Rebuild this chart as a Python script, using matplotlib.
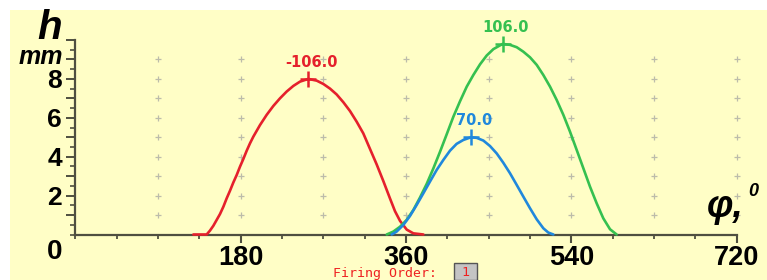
import matplotlib
matplotlib.use("Agg")
import matplotlib.pyplot as plt
from matplotlib.patches import Rectangle
from matplotlib.ticker import MultipleLocator, FixedLocator

# ---- data ----
red_deg = [128.5, 143.0, 146.6, 150.3, 153.9, 157.5, 161.2, 164.8, 168.4, 172.0, 175.7,
           179.3, 182.9, 186.6, 190.2, 193.8, 201.1, 208.3, 215.6, 222.8, 230.1, 237.4,
           244.6, 253.7, 262.8, 270.0, 277.3, 284.5, 291.8, 299.0, 306.3, 313.5, 320.8,
           328.1, 335.3, 342.6, 348.0, 353.5, 360.8, 368.0, 378.9]
red_h = [0.0, 0.0, 0.2, 0.45, 0.75, 1.05, 1.43, 1.86, 2.25, 2.67, 3.06,
         3.49, 3.88, 4.31, 4.69, 5.03, 5.63, 6.15, 6.61, 7.0, 7.35, 7.64,
         7.86, 8.0, 7.91, 7.74, 7.5, 7.2, 6.8, 6.35, 5.8, 5.2, 4.4,
         3.6, 2.75, 1.85, 1.2, 0.7, 0.25, 0.06, 0.0]

green_deg = [339.0, 346.2, 353.5, 360.7, 368.0, 375.2, 382.5, 389.8, 397.0, 404.3, 411.5,
             418.8, 426.1, 433.3, 440.6, 447.8, 455.1, 465.2, 473.2, 480.5, 487.7, 495.0,
             502.3, 509.5, 516.8, 524.0, 531.3, 538.5, 545.8, 553.1, 560.3, 567.6, 574.8,
             582.1, 589.3]
green_h = [0.0, 0.15, 0.4, 0.75, 1.26, 1.9, 2.6, 3.4, 4.25, 5.15, 6.05,
           6.85, 7.6, 8.2, 8.75, 9.2, 9.53, 9.8, 9.75, 9.63, 9.4, 9.11,
           8.72, 8.2, 7.6, 6.92, 6.15, 5.29, 4.35, 3.4, 2.46, 1.6, 0.83,
           0.27, 0.0]

blue_deg = [344.4, 349.8, 357.1, 364.3, 371.6, 378.9, 386.1, 393.4, 400.6, 407.9, 415.1,
            422.4, 430.8, 436.9, 444.2, 451.4, 458.7, 465.9, 473.2, 480.5, 487.7, 495.0,
            502.3, 509.5, 514.9, 520.4]
blue_h = [0.0, 0.15, 0.49, 0.95, 1.52, 2.12, 2.72, 3.32, 3.83, 4.31, 4.66,
          4.86, 5.0, 4.97, 4.83, 4.55, 4.17, 3.69, 3.15, 2.55, 1.95, 1.35,
          0.78, 0.32, 0.1, 0.0]

peak_deg = [253.7, 465.2, 430.8]
peak_h = [8.0, 9.8, 5.0]
peak_labels = ["-106.0", "106.0", "70.0"]

x_ticks = [180, 360, 540, 720]
x_ticklabels = ["180", "360", "540", "720"]
y_ticks = [1, 2, 3, 4, 5, 6, 7, 8, 9, 10]
y_ticklabels = ["", "2", "", "4", "", "6", "", "8", "", ""]

grid_x = [90, 180, 270, 360, 450, 540, 630, 720]
grid_y = [1, 2, 3, 4, 5, 6, 7, 8, 9]

firing_order = "1"

# ---- styling ----
RED = "#e5202c"
GREEN = "#35c050"
BLUE = "#2088dc"
BG = "#FFFEC6"
AXC = "#4f4f40"
W, H = 767, 280

fig = plt.figure(figsize=(W / 100, H / 100), dpi=100)
fig.patch.set_facecolor("white")
fig.patches.append(Rectangle((10 / W, 0), 1 - 10 / W, 1 - 10 / H, transform=fig.transFigure,
                             facecolor=BG, edgecolor="none", zorder=-10))

x0, x1 = 75.3, 736.7
y0, y1 = 234.5, 40.0
ax = fig.add_axes([x0 / W, (H - y0) / H, (x1 - x0) / W, (y0 - y1) / H])
ax.set_zorder(1)
ax.set_facecolor("none")
ax.set_xlim(0, 720)
ax.set_ylim(0, 10)
for s in ["top", "right"]:
    ax.spines[s].set_visible(False)
for s in ["left", "bottom"]:
    ax.spines[s].set_color(AXC)
    ax.spines[s].set_linewidth(1.6)

ax.xaxis.set_major_locator(FixedLocator(x_ticks))
ax.set_xticklabels(x_ticklabels)
ax.xaxis.set_minor_locator(MultipleLocator(45))
ax.yaxis.set_major_locator(FixedLocator(y_ticks))
ax.set_yticklabels(y_ticklabels)
ax.yaxis.set_minor_locator(MultipleLocator(0.5))
ax.tick_params(axis="x", which="major", length=6, width=1.5, color=AXC, pad=1.5,
               labelsize=19.5)
ax.tick_params(axis="x", which="minor", length=3, width=1.3, color=AXC)
ax.tick_params(axis="y", which="major", length=6.5, width=1.4, color=AXC, pad=3,
               labelsize=19)
ax.tick_params(axis="y", which="minor", length=3.5, width=1.2, color=AXC)
for lab in ax.get_xticklabels() + ax.get_yticklabels():
    lab.set_fontfamily("Liberation Sans")
    lab.set_fontweight("bold")

# grid of plus marks
gx = [x for x in grid_x for _ in grid_y]
gy = [y for _ in grid_x for y in grid_y]
ax.scatter(gx, gy, marker="+", s=22, linewidths=0.9, color="#bcbcaa", zorder=1,
           clip_on=False)

for d, h, c in [(red_deg, red_h, RED), (green_deg, green_h, GREEN), (blue_deg, blue_h, BLUE)]:
    ax.plot(d, h, color=c, lw=1.9, zorder=4, clip_on=False, solid_capstyle="round",
            solid_joinstyle="round")

for d, h, lab, c in zip(peak_deg, peak_h, peak_labels, [RED, GREEN, BLUE]):
    ax.plot([d], [h], marker="+", ms=11, mew=1.8, color=c, zorder=5, clip_on=False)
    ax.annotate(lab, (d, h), xytext=(3, 9), textcoords="offset pixels", ha="center",
                va="bottom", color=c, fontsize=10.5, fontweight="bold",
                family="DejaVu Sans", zorder=6, annotation_clip=False)

# axis labels / extra texts
fig.text(62 / W, 1 - 28 / H, "h", ha="right", va="center", fontsize=29,
         fontweight="bold", fontstyle="italic", family="Liberation Sans")
fig.text(63 / W, 1 - 63.5 / H, "mm", ha="right", va="baseline", fontsize=18,
         fontweight="bold", fontstyle="italic", family="Liberation Sans")
fig.text(55 / W, 1 - 252 / H, "0", ha="center", va="center", fontsize=20,
         fontweight="bold", family="Liberation Sans")
fig.text(744 / W, 1 - 207 / H, "φ,", ha="right", va="center", fontsize=27,
         fontweight="bold", fontstyle="italic", family="Liberation Sans")
fig.text(753 / W, 1 - 192 / H, "0", ha="center", va="center", fontsize=13,
         fontweight="bold", fontstyle="italic", family="Liberation Sans")

fig.text(333 / W, 1 - 276.5 / H, "Firing Order:", ha="left", va="baseline", fontsize=9.5,
         color="#ee2222", family="DejaVu Sans Mono")
fig.patches.append(Rectangle((454 / W, 0), 23 / W, 17 / H, transform=fig.transFigure,
                             facecolor="#c4c4c4", edgecolor="#555555", lw=1, zorder=2))
fig.text(465 / W, 1 - 276.5 / H, firing_order, ha="center", va="baseline", fontsize=9.5,
         color="#ee2222", family="DejaVu Sans Mono", zorder=3)

fig.savefig("out.png", dpi=100)
